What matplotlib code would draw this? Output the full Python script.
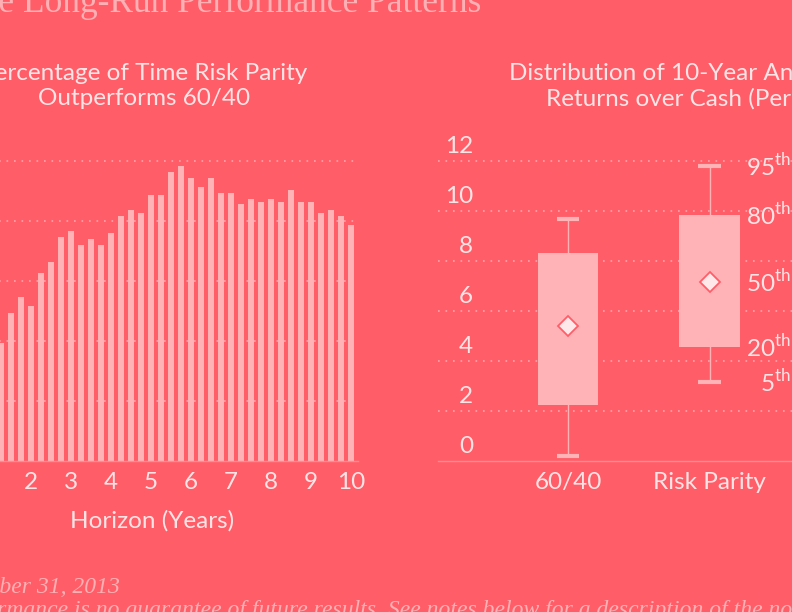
import numpy as np
import matplotlib
matplotlib.use('Agg')
import matplotlib.pyplot as plt
import matplotlib.transforms as mtransforms

# figure size in pixels (dpi 100)
W, H = 792, 612

# colours
bg = '#FF5E68'
bar_col = '#FFB3B7'
txt_col = '#FFE4E6'
grid_col = '#FFA3A9'
faint_col = '#FFB0B4'
fs = 17.5

plt.rcParams['font.family'] = ['Lato', 'DejaVu Sans']
plt.rcParams['mathtext.fontset'] = 'custom'
plt.rcParams['mathtext.rm'] = 'Lato'

# left panel data: % of time risk parity beats 60/40, by horizon (years)
horizons = np.arange(1.25, 10.01, 0.25)
pct_outperform = [39.4, 49.2, 54.8, 51.8, 62.6, 66.3, 74.8, 76.8, 72.1, 74.1,
                  72.1, 76.0, 81.8, 83.8, 82.7, 88.6, 88.6, 96.2, 98.2, 94.2,
                  91.4, 94.2, 89.4, 89.4, 85.8, 87.4, 86.5, 87.4, 86.5, 90.4,
                  86.5, 86.5, 82.7, 83.8, 81.8, 78.7]
year_ticks = [2, 3, 4, 5, 6, 7, 8, 9, 10]

# right panel data: percentiles of 10-year annualized excess returns
strategies = ['60/40', 'Risk Parity']
p5 = [0.21, 3.15]
p20 = [2.24, 4.57]
p50 = [5.4, 7.17]
p80 = [8.33, 9.83]
p95 = [9.67, 11.8]
ret_ticks = [0, 2, 4, 6, 8, 10, 12]
pct_labels = ['95', '80', '50', '20', '5']


def px_box(left, top, right, bottom):
    return [left / W, 1 - bottom / H, (right - left) / W, (bottom - top) / H]


def fx(px):
    return px / W


def fy(py):
    return 1 - py / H


fig = plt.figure(figsize=(W / 100, H / 100), dpi=100, facecolor=bg)
renderer = fig.canvas.get_renderer()


def text_width(s, **kw):
    t = fig.text(0, 0, s, **kw)
    w = t.get_window_extent(renderer).width
    t.remove()
    return w


# ---- left panel: bars ----
ax1 = fig.add_axes(px_box(-40, 151, 358, 461))
ax1.set_facecolor('none')
ax1.bar(horizons, pct_outperform, width=0.15, color=bar_col, zorder=2)
ax1.set_xlim(10 - (350.7 + 40) / 40, 10 + (358 - 350.7) / 40)
ax1.set_ylim(0, 310 / 3)
ax1.set_yticks([20, 40, 60, 80, 100])
ax1.yaxis.grid(True, color=grid_col, linestyle=(0, (1, 3.5)), linewidth=1.2, zorder=1)
ax1.set_axisbelow(True)
ax1.tick_params(axis='y', left=False, labelleft=False)
ax1.set_xticks(year_ticks)
ax1.set_xticklabels([str(t) for t in year_ticks])
ax1.tick_params(axis='x', length=0, pad=8, labelsize=fs, labelcolor=txt_col)
for s in ['top', 'left', 'right']:
    ax1.spines[s].set_visible(False)
ax1.spines['bottom'].set_color('#FF8A91')
ax1.spines['bottom'].set_linewidth(1)

fig.text(fx(152), fy(521), 'Horizon (Years)', ha='center', va='center',
         fontsize=fs, color=txt_col)
fig.text(fx(144), fy(86), 'Percentage of Time Risk Parity\nOutperforms 60/40',
         ha='center', va='center', fontsize=fs, color=txt_col, linespacing=1.25)

# ---- right panel: percentile boxes ----
ax2 = fig.add_axes(px_box(438, 151, 900, 461))
ax2.set_facecolor('none')
xpos = np.arange(1, len(strategies) + 1)
ax2.set_xlim(1 - (568 - 438) / 141.7, 2 + (900 - 709.7) / 141.7)
ax2.set_ylim(0, 310 / 25)
box_w = 0.428
cap_w = 0.16
for i, x in enumerate(xpos):
    ax2.plot([x, x], [p5[i], p95[i]], color=bar_col, lw=1, zorder=2)
    ax2.bar(x, p80[i] - p20[i], bottom=p20[i], width=box_w, color=bar_col, zorder=3)
    ax2.plot([x - cap_w / 2, x + cap_w / 2], [p5[i], p5[i]], color=bar_col,
             lw=3, solid_capstyle='butt', zorder=3)
    ax2.plot([x - cap_w / 2, x + cap_w / 2], [p95[i], p95[i]], color=bar_col,
             lw=3, solid_capstyle='butt', zorder=3)
    ax2.plot(x, p50[i], marker='D', markersize=10, markerfacecolor='#FFE8EA',
             markeredgecolor=bg, markeredgewidth=1.3, zorder=4)

ax2.set_yticks(ret_ticks[1:])
ax2.yaxis.grid(True, color=grid_col, linestyle=(0, (1, 3.5)), linewidth=1.2, zorder=1)
ax2.set_axisbelow(True)
ax2.tick_params(axis='y', left=False, labelleft=False)
trans = mtransforms.blended_transform_factory(ax2.transAxes, ax2.transData)
for t in ret_ticks:
    ax2.text((473 - 438) / 462, t + 0.33, str(t), transform=trans, ha='right',
             va='baseline', fontsize=fs, color=txt_col)
ax2.set_xticks(xpos)
ax2.set_xticklabels(strategies)
ax2.tick_params(axis='x', length=0, pad=8, labelsize=fs, labelcolor=txt_col)
for s in ['top', 'left', 'right']:
    ax2.spines[s].set_visible(False)
ax2.spines['bottom'].set_color('#FF8A91')
ax2.spines['bottom'].set_linewidth(1)

# percentile labels next to the risk parity box, ending at the figure edge
ftrans = mtransforms.blended_transform_factory(fig.transFigure, ax2.transData)
rp_levels = [p95[1], p80[1], p50[1], p20[1], p5[1]]
for lab, lev in zip(pct_labels, rp_levels):
    ax2.text(fx(791), lev, lab + r'$^{\mathrm{th}}$', transform=ftrans, ha='right',
             va='center', fontsize=fs, color=txt_col, clip_on=False)

fig.text(fx(695), fy(86), 'Distribution of 10-Year Annualized\nReturns over Cash (Percent)',
         ha='center', va='center', fontsize=fs, color=txt_col, linespacing=1.25)

# ---- page title and footnotes (cropped) ----
serif = dict(family='Liberation Serif')
pre_w = text_width('Th', fontsize=25.5, **serif)
fig.text(fx(-pre_w - 2), fy(12), 'The Long-Run Performance Patterns', ha='left',
         va='baseline', fontsize=25.5, color=faint_col, **serif)
fig.text(fx(120), fy(593), 'As of December 31, 2013', ha='right', va='baseline',
         fontsize=17, color=faint_col, style='italic', **serif)

pre_w = text_width('Past perfo', fontsize=17, style='italic', **serif)
fig.text(fx(-pre_w - 3), fy(616),
         'Past performance is no guarantee of future results. See notes below for a description of the normalization',
         ha='left', va='baseline', fontsize=17, color=faint_col, style='italic', **serif)

fig.savefig('out.png', dpi=100, facecolor=bg)
